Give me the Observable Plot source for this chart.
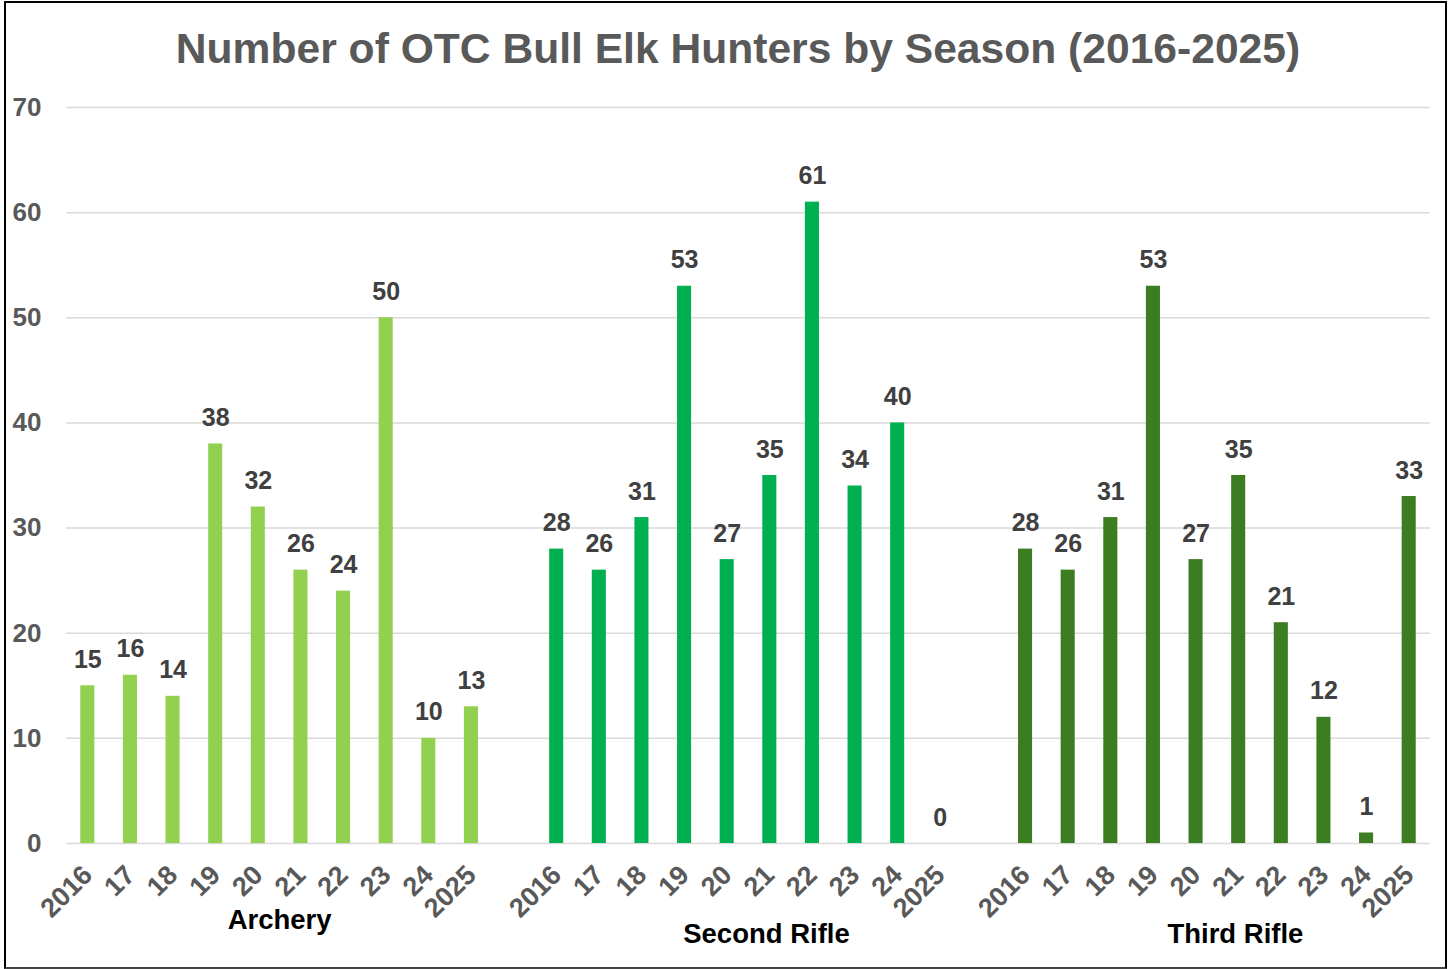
<!DOCTYPE html>
<html>
<head>
<meta charset="utf-8">
<script src="https://cdn.jsdelivr.net/npm/d3@7"></script>
<script src="https://cdn.jsdelivr.net/npm/@observablehq/plot@0.6"></script>
<style>
  html, body { margin: 0; padding: 0; background: #fff; }
  #wrap { position: relative; width: 1452px; height: 969px; overflow: hidden; font-family: "Liberation Sans", Arial, sans-serif; }
  #frame { position: absolute; left: 4px; top: 1px; width: 1439px; height: 964px; border: 2px solid #000; border-bottom-color: #444; box-sizing: content-box; pointer-events: none; }
  #title { position: absolute; left: 12px; top: 22px; width: 1452px; text-align: center; font-size: 42.6px; font-weight: bold; color: #595959; line-height: 52px; }
  #chart { position: absolute; left: 0; top: 90px; }
</style>
</head>
<body>
<div id="wrap">
  <div id="title">Number of OTC Bull Elk Hunters by Season (2016-2025)</div>
  <div id="chart"></div>
  <div id="frame"></div>
</div>
<script>
const seasons = ["Archery", "Second Rifle", "Third Rifle"];
const yearLabels = ["2016", "17", "18", "19", "20", "21", "22", "23", "24", "2025"];
const archery = [15, 16, 14, 38, 32, 26, 24, 50, 10, 13];
const secondRifle = [28, 26, 31, 53, 27, 35, 61, 34, 40, 0];
const thirdRifle = [28, 26, 31, 53, 27, 35, 21, 12, 1, 33];
const colors = ["#92d050", "#00b050", "#3c7d22"];
const yTicks = [0, 10, 20, 30, 40, 50, 60, 70];

const seriesValues = [archery, secondRifle, thirdRifle];
const slotsPerGroup = yearLabels.length + 1;
const rows = [];
seasons.forEach((s, si) => {
  seriesValues[si].forEach((v, yi) => {
    rows.push({season: s, year: yearLabels[yi], value: v, idx: si * slotsPerGroup + yi});
  });
});
const groups = seasons.map((s, si) => ({season: s, center: si * slotsPerGroup + (yearLabels.length - 1) / 2}));
const labelByIdx = new Map(rows.map(d => [d.idx, d.year]));
const halfBar = 0.165;
const nSlots = seasons.length * slotsPerGroup - 1;

const plot = Plot.plot({
  width: 1452,
  height: 879,
  marginLeft: 66,
  marginRight: 22,
  marginTop: 17,
  marginBottom: 126,
  style: {fontFamily: "'Liberation Sans', Arial, sans-serif", background: "transparent", overflow: "visible"},
  x: {type: "linear", domain: [-0.5, nSlots - 0.5], axis: null},
  y: {domain: [0, 70], axis: null},
  color: {domain: seasons, range: colors},
  marks: [
    Plot.ruleY(yTicks, {stroke: "#d9d9d9", strokeWidth: 1.5}),
    Plot.rectY(rows, {x1: d => d.idx - halfBar, x2: d => d.idx + halfBar, y: "value", fill: "season"}),
    Plot.text(rows, {x: "idx", y: "value", text: d => String(d.value), dy: -26, fontSize: 25, fontWeight: "bold", fill: "#404040"}),
    Plot.axisY({ticks: yTicks, tickSize: 0, tickPadding: 25, fontSize: 26, fontWeight: "bold", fill: "#595959", label: null}),
    Plot.axisX({ticks: rows.map(d => d.idx), tickFormat: d => labelByIdx.get(d), tickRotate: -45, tickSize: 0, tickPadding: 27, fontSize: 27, fontWeight: "bold", fill: "#595959", label: null}),
    Plot.text(groups.slice(0, 1), {x: "center", text: "season", frameAnchor: "bottom", dy: 85, fontSize: 27.5, fontWeight: "bold", fill: "#000"}),
    Plot.text(groups.slice(1), {x: "center", text: "season", frameAnchor: "bottom", dx: 18, dy: 99, fontSize: 27.5, fontWeight: "bold", fill: "#000"})
  ]
});
document.getElementById("chart").appendChild(plot);
</script>
</body>
</html>
